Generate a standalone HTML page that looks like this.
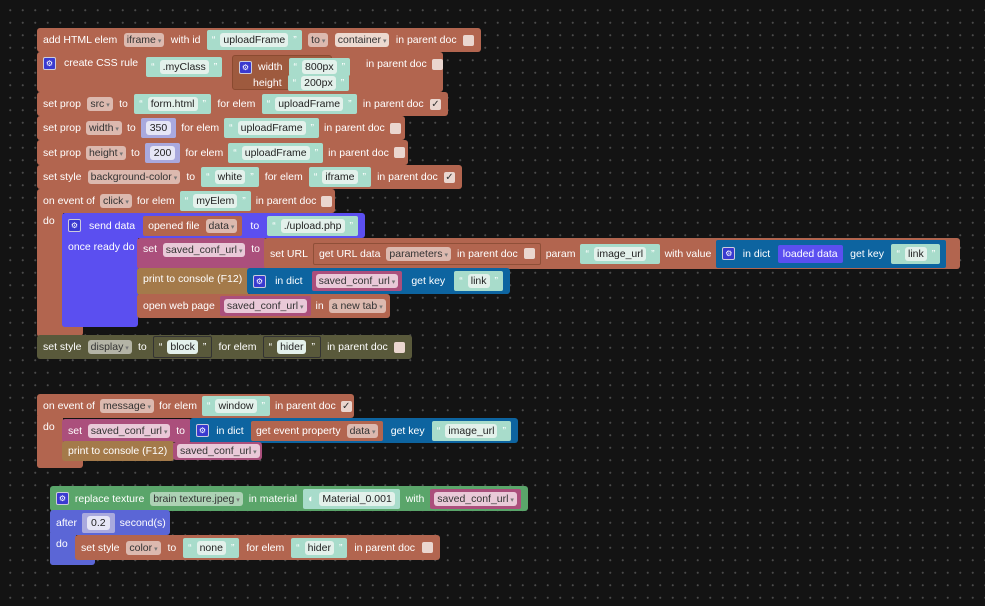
<!DOCTYPE html>
<html><head><meta charset="utf-8"><style>
html,body{margin:0;padding:0}
body{width:985px;height:606px;overflow:hidden;background-color:#131313;background-image:radial-gradient(circle,#4a4a4a 0.9px,transparent 1.2px);background-size:12.5px 12.5px;background-position:4px 4px;position:relative;font-family:"Liberation Sans",Arial,sans-serif;font-size:10.5px;color:#fff}
.b{position:absolute;box-sizing:border-box;border-radius:3px;display:flex;align-items:center;padding:0 7px 0 6px;gap:5px;white-space:nowrap}
.sb{justify-content:space-between}
.b>*,.ib>*{flex-shrink:0}
.top{align-items:flex-start;padding-top:5px}
.br{background:#b2654f}
.dk{background:#9e5a3e}
.pu{background:#5b4ff0}
.pk{background:#ab4f7c}
.tn{background:#a47a4a}
.bl{background:#0d64a0}
.ol{background:#59593b}
.gr{background:#5aa56a}
.av{background:#5b66d6}
.dd{background:rgba(255,255,255,.55);color:#333;border-radius:3px;padding:1px 3px}
.dd:after{content:" ▾";font-size:7px;color:#777}
.s{background:#a8dccb;border-radius:2px;padding:3px 5px;display:inline-flex;align-items:center;gap:5px;color:#fff}
.s i{font-style:normal;background:#e3f1eb;color:#222;border-radius:3px;padding:1px 3px}
.n{background:#a9a9de;border-radius:2px;padding:3px 5px;display:inline-flex}
.n i{font-style:normal;background:#e6e6f6;color:#222;border-radius:3px;padding:1px 4px}
.v{background:#ab4f7c;border-radius:2px;padding:3px 4px;display:inline-flex}
.v i{font-style:normal;background:#e9c9d8;color:#333;border-radius:3px;padding:1px 3px}
.v i:after{content:" ▾";font-size:7px;color:#777}
.cb{display:inline-block;width:11px;height:11px;background:#ead6cf;border-radius:2px;color:#333;font-size:10px;line-height:11px;text-align:center}
.gear{display:inline-block;width:11px;height:11px;background:#3a3ad0;border:1px solid #ccd;border-radius:2px;font-size:8px;line-height:11px;text-align:center}
.ib{display:inline-flex;align-items:center;gap:6px;padding:3px 5px;border-radius:2px}
</style></head><body>

<!-- stack 1 -->
<div class="b br sb" style="left:37px;top:28px;width:444px;height:24px">add HTML elem <span class="dd">iframe</span> with id <span class="s">“ <i>uploadFrame</i> ”</span> <span class="dd">to</span><span class="dd" style="background:#ecd9d0">container</span> in parent doc <span class="cb"></span></div>
<div class="b br top" style="left:37px;top:52px;width:406px;height:40px;gap:8px"><span class="gear">⚙</span> create CSS rule <span class="s">“ <i>.myClass</i> ”</span></div>
<div class="b dk" style="left:232px;top:55px;width:100px;height:35px;border:1px solid #8a4a30"></div>
<div style="position:absolute;left:239px;top:58px;display:flex;align-items:center;gap:6px"><span class="gear">⚙</span> width <span class="s" style="padding:2px 5px">“ <i>800px</i> ”</span></div>
<div style="position:absolute;left:253px;top:75px;display:flex;align-items:center;gap:6px">height <span class="s" style="padding:1px 5px">“ <i>200px</i> ”</span></div>
<div style="position:absolute;left:366px;top:58px;display:flex;align-items:center;gap:5px">in parent doc <span class="cb"></span></div>
<div class="b br sb" style="left:37px;top:92px;width:411px;height:24px">set prop <span class="dd">src</span> to <span class="s">“ <i>form.html</i> ”</span> for elem <span class="s">“ <i>uploadFrame</i> ”</span> in parent doc <span class="cb">✓</span></div>
<div class="b br sb" style="left:37px;top:116px;width:368px;height:24px">set prop <span class="dd">width</span> to <span class="n"><i>350</i></span> for elem <span class="s">“ <i>uploadFrame</i> ”</span> in parent doc <span class="cb"></span></div>
<div class="b br sb" style="left:37px;top:140px;width:371px;height:25px">set prop <span class="dd">height</span> to <span class="n"><i>200</i></span> for elem <span class="s">“ <i>uploadFrame</i> ”</span> in parent doc <span class="cb"></span></div>
<div class="b br sb" style="left:37px;top:165px;width:425px;height:24px">set style <span class="dd">background-color</span> to <span class="s">“ <i>white</i> ”</span> for elem <span class="s">“ <i>iframe</i> ”</span> in parent doc <span class="cb">✓</span></div>
<div class="b br sb" style="left:37px;top:189px;width:298px;height:24px">on event of <span class="dd">click</span> for elem <span class="s">“ <i>myElem</i> ”</span> in parent doc <span class="cb"></span></div>
<div class="b br top" style="left:37px;top:210px;width:26px;height:127px;border-radius:0 0 3px 3px">do</div>
<div class="b br" style="left:37px;top:326px;width:46px;height:10px;border-radius:0 0 3px 3px"></div>
<div class="b pu sb" style="left:62px;top:213px;width:303px;height:25px"><span class="gear">⚙</span> send data <span class="ib br">opened file <span class="dd">data</span></span> to <span class="s">“ <i>./upload.php</i> ”</span></div>
<div class="b pu top" style="left:62px;top:236px;width:76px;height:91px;border-radius:0 0 3px 3px">once ready do</div>
<div class="b pu" style="left:62px;top:318px;width:65px;height:9px;border-radius:0 0 3px 3px"></div>
<div class="b pk top sb" style="left:137px;top:238px;width:130px;height:31px">set <span class="v" style="padding:0;background:none"><i>saved_conf_url</i></span> to</div>
<div class="b br sb" style="left:264px;top:238px;width:696px;height:31px;padding-right:14px">set URL <span class="ib br" style="border:1px solid #8f4f38">get URL data <span class="dd">parameters</span> in parent doc <span class="cb"></span></span> param <span class="s">“ <i>image_url</i> ”</span> with value <span class="ib bl sb" style="padding:4px 6px;width:230px;box-sizing:border-box"><span class="gear">⚙</span> in dict <span class="ib pu">loaded data</span> get key <span class="s">“ <i>link</i> ”</span></span></div>
<div class="b tn top" style="left:137px;top:268px;width:112px;height:27px">print to console (F12)</div>
<div class="b bl sb" style="left:247px;top:268px;width:263px;height:26px"><span class="gear">⚙</span> in dict <span class="v"><i>saved_conf_url</i></span> get key <span class="s">“ <i>link</i> ”</span></div>
<div class="b br sb" style="left:137px;top:294px;width:253px;height:24px">open web page <span class="v"><i>saved_conf_url</i></span> in <span class="dd">a new tab</span></div>
<div class="b ol sb" style="left:37px;top:335px;width:375px;height:24px">set style <span class="dd">display</span> to <span class="s" style="background:#59593b;border:1px solid #333">“ <i>block</i> ”</span> for elem <span class="s" style="background:#59593b;border:1px solid #333">“ <i>hider</i> ”</span> in parent doc <span class="cb"></span></div>

<!-- stack 2 -->
<div class="b br sb" style="left:37px;top:394px;width:317px;height:24px">on event of <span class="dd">message</span> for elem <span class="s">“ <i>window</i> ”</span> in parent doc <span class="cb">✓</span></div>
<div class="b br top" style="left:37px;top:416px;width:26px;height:52px;border-radius:0 0 3px 3px">do</div>
<div class="b br" style="left:37px;top:458px;width:46px;height:10px;border-radius:0 0 3px 3px"></div>
<div class="b pk sb" style="left:62px;top:419px;width:130px;height:23px">set <span class="v" style="padding:0;background:none"><i>saved_conf_url</i></span> to</div>
<div class="b bl sb" style="left:190px;top:418px;width:328px;height:25px"><span class="gear">⚙</span> in dict <span class="ib br">get event property <span class="dd">data</span></span> get key <span class="s">“ <i>image_url</i> ”</span></div>
<div class="b tn" style="left:62px;top:441px;width:112px;height:20px">print to console (F12)</div>
<div class="b pk" style="left:173px;top:442px;width:89px;height:18px;padding:0 4px"><span class="v" style="padding:0"><i>saved_conf_url</i></span></div>

<!-- stack 3 -->
<div class="b gr sb" style="left:50px;top:486px;width:478px;height:25px"><span class="gear">⚙</span> replace texture <span class="dd" style="background:rgba(255,255,255,.5)">brain texture.jpeg</span> in material <span class="s">◐ <i>Material_0.001</i></span> with <span class="v"><i>saved_conf_url</i></span></div>
<div class="b av sb" style="left:50px;top:510px;width:120px;height:25px">after <span class="n"><i>0.2</i></span> second(s)</div>
<div class="b av top" style="left:50px;top:533px;width:26px;height:32px;border-radius:0 0 3px 3px">do</div>
<div class="b av" style="left:50px;top:556px;width:45px;height:9px;border-radius:0 0 3px 3px"></div>
<div class="b br sb" style="left:75px;top:535px;width:365px;height:25px">set style <span class="dd">color</span> to <span class="s">“ <i>none</i> ”</span> for elem <span class="s">“ <i>hider</i> ”</span> in parent doc <span class="cb"></span></div>

</body></html>
